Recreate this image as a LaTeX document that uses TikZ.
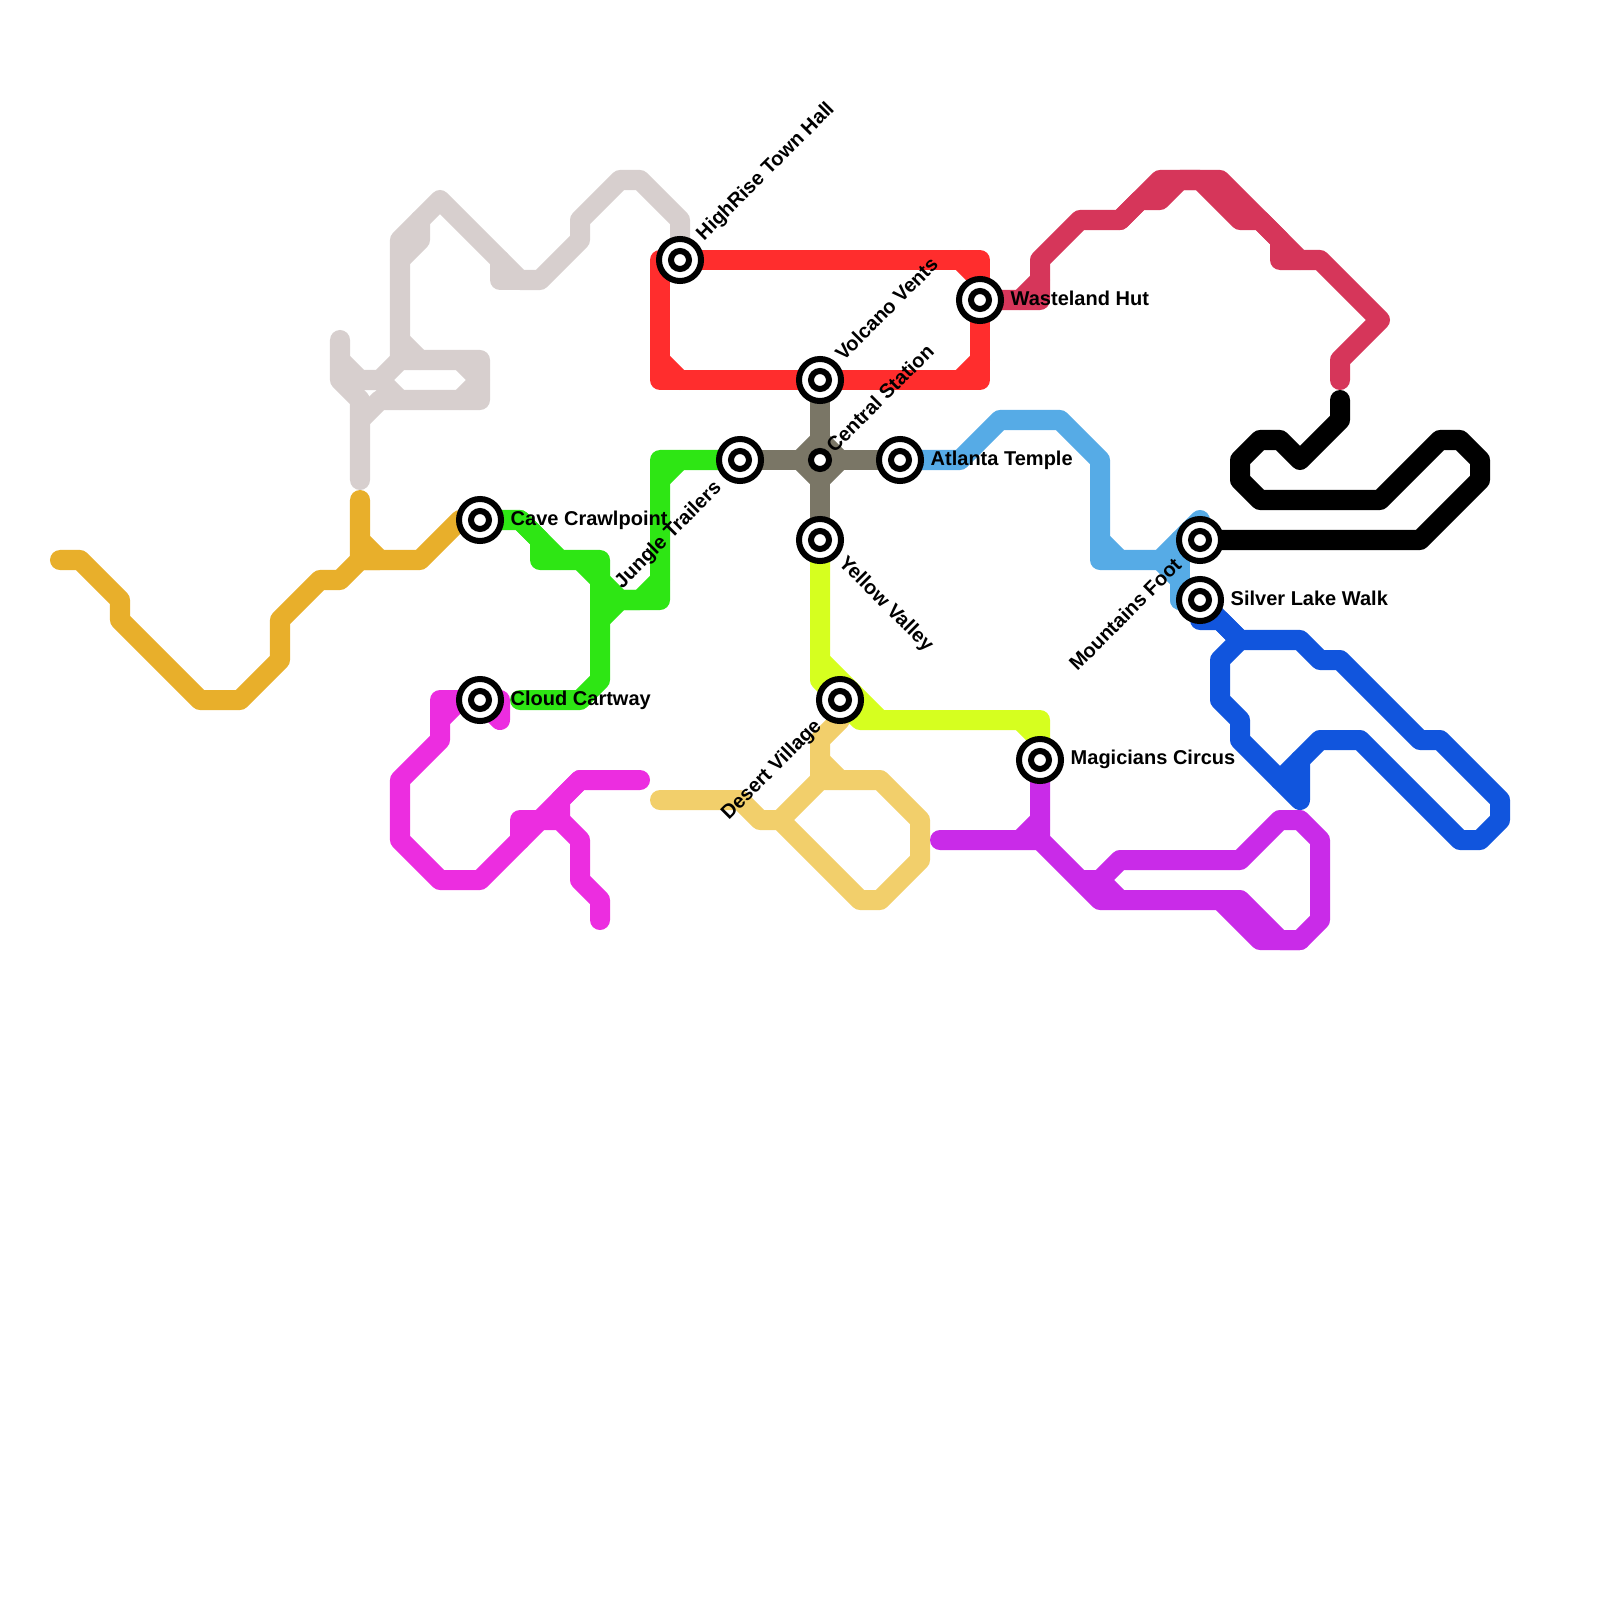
\documentclass[tikz,border=0pt]{standalone}
\usepackage{fontspec}
\setmainfont{Liberation Sans}
\usetikzlibrary{
    backgrounds
}
\definecolor{goldLine}{HTML}{E8AF2B}
\definecolor{ashLine}{HTML}{D7CFCE}
\definecolor{jungleLine}{HTML}{2EE614}
\definecolor{pinkLine}{HTML}{EC2DE0}
\definecolor{sandLine}{HTML}{F2CF6B}
\definecolor{limeLine}{HTML}{D6FF1F}
\definecolor{circusLine}{HTML}{C92BE8}
\definecolor{skyLine}{HTML}{56ABE6}
\definecolor{lakeLine}{HTML}{1155DD}
\definecolor{wasteLine}{HTML}{D6365A}
\definecolor{lavaLine}{HTML}{FF2D2D}
\definecolor{hubLine}{HTML}{7A7666}
\tikzset{
    metro/.style={
        draw,
        line width=0.2cm,
        line join=round,
        line cap=round
    },
    stn/.style={
        circle,
        draw=black,
        fill=white,
        line width=0.06cm,
        minimum size=0.42cm,
        inner sep=0pt,
        path picture={
            \draw[black, line width=0.06cm] (path picture bounding box.center) circle (0.09cm);
        }
    },
    hub/.style={
        circle,
        draw=black,
        fill=white,
        line width=0.06cm,
        minimum size=0.18cm,
        inner sep=0pt
    },
    lbl/.style={
        font=\bfseries\fontsize{5.69}{7}\selectfont,
        inner sep=0pt,
        text=black
    }
}
\begin{document}
\begin{tikzpicture}[
    x=0.01cm,
    y=-0.01cm
]
    \useasboundingbox (0,0) rectangle (1600,1600);

    % Estaciones
    \node[stn] (cave)     at (480,520)  {};
    \node[stn] (cloud)    at (480,700)  {};
    \node[stn] (highrise) at (680,260)  {};
    \node[stn] (jungle)   at (740,460)  {};
    \node[stn] (volcano)  at (820,380)  {};
    \node[hub] (central)  at (820,460)  {};
    \node[stn] (yellow)   at (820,540)  {};
    \node[stn] (atlanta)  at (900,460)  {};
    \node[stn] (waste)    at (980,300)  {};
    \node[stn] (desert)   at (840,700)  {};
    \node[stn] (magic)    at (1040,760) {};
    \node[stn] (mount)    at (1200,540) {};
    \node[stn] (silver)   at (1200,600) {};

    % Nombres
    \node[lbl, anchor=base west] (caveLbl)     at (510,525)  {Cave Crawlpoint};
    \node[lbl, anchor=base west] (cloudLbl)    at (510,705)  {Cloud Cartway};
    \node[lbl, anchor=base west] (atlantaLbl)  at (930,465)  {Atlanta Temple};
    \node[lbl, anchor=base west] (wasteLbl)    at (1010,305.5) {Wasteland Hut};
    \node[lbl, anchor=base west] (magicLbl)    at (1070,764) {Magicians Circus};
    \node[lbl, anchor=base west] (silverLbl)   at (1230,605) {Silver Lake Walk};
    \node[lbl, anchor=west, rotate=45]  (highriseLbl) at (700,238)  {HighRise Town Hall};
    \node[lbl, anchor=west, rotate=45]  (volcanoLbl)  at (838,357)  {Volcano Vents};
    \node[lbl, anchor=west, rotate=45]  (centralLbl)  at (829,449)  {Central Station};
    \node[lbl, anchor=west, rotate=-45] (yellowLbl)   at (841,560)  {Yellow Valley};
    \node[lbl, anchor=east, rotate=45]  (jungleLbl)   at (719,485)  {Jungle Trailers};
    \node[lbl, anchor=east, rotate=45]  (desertLbl)   at (819,723)  {Desert Village};
    \node[lbl, anchor=east, rotate=45]  (mountLbl)    at (1178,561) {Mountains Foot};

    % Lineas
    \begin{scope}[on background layer]

        % Oro
        \path[metro, goldLine]
            (60,560) -- (80,560) -- (120,600) -- (120,620) -- (200,700) -- (240,700)
            -- (280,660) -- (280,620) -- (320,580) -- (340,580) -- (360,560)
            -- (420,560) -- (460,520) -- (cave.center);
        \path[metro, goldLine]
            (360,500) -- (360,540) -- (380,560) -- (360,560) -- cycle;

        % Ceniza
        \path[metro, ashLine]
            (360,480) -- (360,400) -- (340,380) -- (340,340);
        \path[metro, ashLine]
            (340,360) -- (360,380) -- (380,380) -- (400,360) -- (480,360)
            -- (480,400) -- (380,400) -- (360,420);
        \path[metro, ashLine]
            (380,380) -- (400,400);
        \path[metro, ashLine]
            (460,360) -- (480,380) -- (460,400);
        \path[metro, ashLine]
            (400,360) -- (400,240) -- (440,200) -- (520,280) -- (540,280)
            -- (580,240) -- (580,220) -- (620,180) -- (640,180)
            -- (680,220) -- (highrise.center);
        \path[metro, ashLine]
            (420,220) -- (420,240) -- (400,260);
        \path[metro, ashLine]
            (400,340) -- (420,360);
        \path[metro, ashLine]
            (500,260) -- (500,280) -- (520,280);

        % Selva
        \path[metro, jungleLine]
            (cave.center) -- (520,520) -- (560,560) -- (600,560) -- (600,680)
            -- (580,700) -- (520,700);
        \path[metro, jungleLine]
            (520,520) -- (540,540) -- (540,560) -- (560,560);
        \path[metro, jungleLine]
            (580,560) -- (620,600) -- (640,600) -- (660,580);
        \path[metro, jungleLine]
            (600,620) -- (620,600) -- (660,600) -- (660,460) -- (jungle.center);
        \path[metro, jungleLine]
            (660,480) -- (680,460);

        % Rosa
        \path[metro, pinkLine]
            (cloud.center) -- (440,700) -- (440,740) -- (400,780) -- (400,840)
            -- (440,880) -- (480,880) -- (580,780) -- (640,780);
        \path[metro, pinkLine]
            (440,720) -- (460,700);
        \path[metro, pinkLine]
            (cloud.center) -- (500,700) -- (500,720) -- (cloud.center);
        \path[metro, pinkLine]
            (520,840) -- (520,820) -- (560,820) -- (580,840) -- (580,880)
            -- (600,900) -- (600,920);
        \path[metro, pinkLine]
            (560,820) -- (560,800) -- (580,780);

        % Arena
        \path[metro, sandLine]
            (660,800) -- (740,800) -- (760,820) -- (780,820) -- (860,900)
            -- (880,900) -- (920,860) -- (920,820) -- (880,780) -- (820,780)
            -- (780,820);
        \path[metro, sandLine]
            (820,780) -- (820,740) -- (840,720) -- (desert.center);
        \path[metro, sandLine]
            (820,760) -- (840,780);

        % Lima
        \path[metro, limeLine]
            (yellow.center) -- (820,680) -- (860,720) -- (1040,720) -- (magic.center);
        \path[metro, limeLine]
            (820,660) -- (880,720);
        \path[metro, limeLine]
            (1020,720) -- (1040,740);

        % Circo
        \path[metro, circusLine]
            (magic.center) -- (1040,840) -- (1100,900) -- (1240,900) -- (1280,940)
            -- (1300,940) -- (1320,920) -- (1320,840) -- (1300,820) -- (1280,820)
            -- (1240,860) -- (1120,860) -- (1100,880) -- (1080,880);
        \path[metro, circusLine]
            (940,840) -- (1040,840) -- (1020,840) -- (1040,820);
        \path[metro, circusLine]
            (1100,880) -- (1120,900);
        \path[metro, circusLine]
            (1220,900) -- (1260,940) -- (1300,940);

        % Cielo
        \path[metro, skyLine]
            (atlanta.center) -- (960,460) -- (1000,420) -- (1060,420) -- (1100,460)
            -- (1100,560) -- (1160,560) -- (1200,520);
        \path[metro, skyLine]
            (1100,540) -- (1120,560);
        \path[metro, skyLine]
            (1160,560) -- (1180,580) -- (1180,600) -- (silver.center);
        \path[metro, skyLine]
            (1180,540) -- (1180,600);

        % Lago
        \path[metro, lakeLine]
            (silver.center) -- (1240,640) -- (1300,640) -- (1320,660) -- (1340,660)
            -- (1420,740) -- (1440,740) -- (1500,800) -- (1500,820) -- (1480,840)
            -- (1460,840) -- (1360,740) -- (1320,740) -- (1280,780);
        \path[metro, lakeLine]
            (silver.center) -- (1200,620) -- (1220,620) -- (1240,640) -- (1220,660)
            -- (1220,700) -- (1240,720) -- (1240,740) -- (1300,800) -- (1300,760);

        % Negro
        \path[metro, black]
            (mount.center) -- (1420,540) -- (1480,480) -- (1480,460) -- (1460,440)
            -- (1440,440) -- (1380,500) -- (1260,500) -- (1240,480) -- (1240,460)
            -- (1260,440) -- (1280,440) -- (1300,460) -- (1340,420) -- (1340,400);

        % Baldio
        \path[metro, wasteLine]
            (waste.center) -- (1040,300) -- (1040,260) -- (1080,220) -- (1120,220)
            -- (1160,180) -- (1220,180) -- (1300,260) -- (1320,260) -- (1380,320)
            -- (1340,360) -- (1340,380);
        \path[metro, wasteLine]
            (1020,300) -- (1040,280);
        \path[metro, wasteLine]
            (1120,220) -- (1140,200) -- (1160,200) -- (1180,180) -- (1200,180)
            -- (1240,220) -- (1260,220) -- (1280,240) -- (1280,260) -- (1300,260);

        % Lava
        \path[metro, lavaLine]
            (highrise.center) -- (980,260) -- (980,380) -- (660,380) -- (660,260)
            -- cycle;
        \path[metro, lavaLine]
            (660,360) -- (680,380);
        \path[metro, lavaLine]
            (960,260) -- (980,280);
        \path[metro, lavaLine]
            (980,360) -- (960,380);

        % Central
        \path[metro, hubLine]
            (volcano.center) -- (yellow.center);
        \path[metro, hubLine]
            (jungle.center) -- (atlanta.center);
        \path[metro, hubLine]
            (800,460) -- (820,440) -- (840,460) -- (820,480) -- cycle;

    \end{scope}

\end{tikzpicture}
\end{document}
